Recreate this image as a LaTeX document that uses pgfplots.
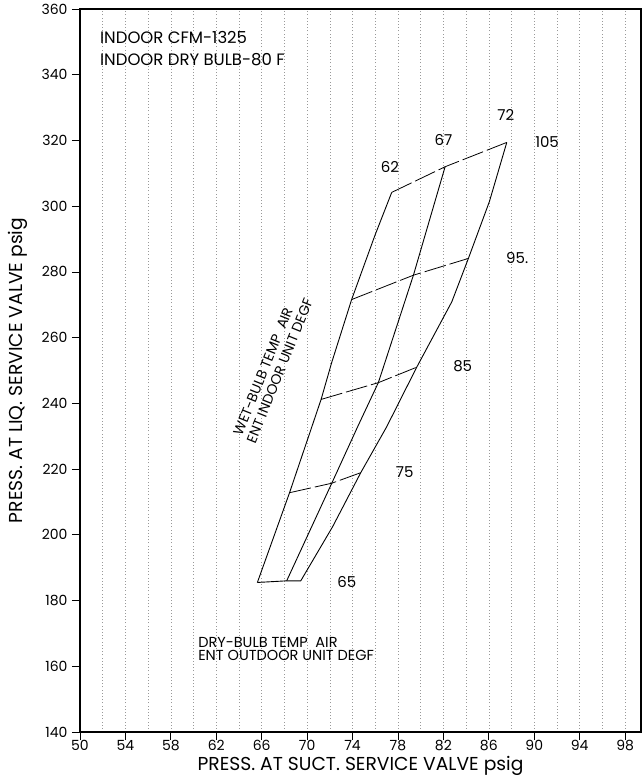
\documentclass[border=0pt]{standalone}
\usepackage{fontspec}
\setmainfont{Poppins}
\usepackage{pgfplots}
\pgfplotsset{compat=1.18}
\begin{document}
\begin{tikzpicture}
\begin{axis}[name=ax, scale only axis, width=561pt, height=723pt,
  xmin=50, xmax=99.4, ymin=140, ymax=360,
  xtick={50,54,...,98}, ytick={140,160,...,360},
  minor xtick={52,56,...,96},
  xmajorgrids, xminorgrids,
  major grid style={gray!80, line width=0.5pt, dash pattern=on 0.8pt off 2.4pt},
  minor grid style={gray!80, line width=0.5pt, dash pattern=on 0.8pt off 2.4pt},
  tick align=outside, xtick pos=bottom, ytick pos=left,
  major tick length=8pt, minor tick length=0pt,
  axis line style={line width=1.8pt},
  every tick/.style={black, line width=0.8pt},
  /pgf/number format/assume math mode=true,
  /pgf/number format/1000 sep={},
  yticklabel style={font=\fontsize{14}{16}\selectfont, xshift=-1pt},
  xticklabel style={font=\fontsize{14}{16}\selectfont, yshift=3pt},
  xlabel={PRESS. AT SUCT. SERVICE VALVE psig},
  ylabel={PRESS. AT LIQ. SERVICE VALVE psig},
  label style={font=\fontsize{18.7}{21}\selectfont},
  xlabel style={at={(axis description cs:0.5,-0.047)}, anchor=center},
  ylabel style={at={(axis description cs:-0.11,0.5)}, anchor=center},
  clip=false,
]
% wet-bulb curves
\addplot[black, line width=0.9pt] coordinates {(65.62,185.5) (68.44,212.7) (71.23,241.2) (72.17,252.5) (73.93,271.7) (75.98,291.2) (77.45,304.2)};
\addplot[black, line width=0.9pt] coordinates {(68.2,186.0) (72.17,215.7) (74.45,232.9) (76.27,246.3) (79.36,279.0) (80.39,291.2) (82.15,312.0)};
\addplot[black, line width=0.9pt] coordinates {(69.44,186.0) (72.25,202.5) (74.72,218.9) (77.01,232.9) (79.65,251.0) (82.74,270.9) (84.2,284.1) (86.05,301.4) (87.58,319.4)};
% dry-bulb lines
\addplot[black, line width=0.9pt] coordinates {(65.62,185.5) (68.2,186.0) (69.44,186.0)};
\addplot[black, line width=0.8pt, dash pattern=on 22pt off 4pt] coordinates {(68.44,212.8) (72.17,215.7) (74.72,218.9)};
\addplot[black, line width=0.8pt, dash pattern=on 22pt off 4pt] coordinates {(71.23,241.2) (76.27,246.3) (79.65,251.0)};
\addplot[black, line width=0.8pt, dash pattern=on 22pt off 4pt] coordinates {(73.93,271.6) (79.36,279.0) (84.2,284.1)};
\addplot[black, line width=0.8pt, dash pattern=on 22pt off 4pt] coordinates {(77.45,304.2) (82.15,312.0) (87.58,319.4)};
% labels
\node[font=\fontsize{15}{17}\selectfont, inner sep=0pt] at (axis cs:77.3,311.9) {62};
\node[font=\fontsize{15}{17}\selectfont, inner sep=0pt] at (axis cs:82.0,320.1) {67};
\node[font=\fontsize{15}{17}\selectfont, inner sep=0pt] at (axis cs:87.5,327.7) {72};
\node[font=\fontsize{15}{17}\selectfont, inner sep=0pt] at (axis cs:91.13,319.6) {105};
\node[font=\fontsize{15}{17}\selectfont, inner sep=0pt] at (axis cs:88.5,284.1) {95.};
\node[font=\fontsize{15}{17}\selectfont, inner sep=0pt] at (axis cs:83.7,251.2) {85};
\node[font=\fontsize{15}{17}\selectfont, inner sep=0pt] at (axis cs:78.6,219.2) {75};
\node[font=\fontsize{15}{17}\selectfont, inner sep=0pt] at (axis cs:73.5,185.5) {65};
\node[anchor=west, inner sep=0pt, font=\fontsize{16.5}{18}\selectfont] at (axis cs:51.76,351.4) {INDOOR CFM-1325};
\node[anchor=west, inner sep=0pt, font=\fontsize{16.5}{18}\selectfont] at (axis cs:51.76,344.5) {INDOOR DRY BULB-80 F};
\node[anchor=west, inner sep=0pt, font=\fontsize{14.5}{15}\selectfont] at (axis cs:60.4,167.3) {DRY-BULB TEMP\ \ AIR};
\node[anchor=west, inner sep=0pt, font=\fontsize{14.5}{15}\selectfont] at (axis cs:60.4,163.4) {ENT OUTDOOR UNIT DEGF};
\node[anchor=west, rotate=68, inner sep=0pt, font=\fontsize{14}{15}\selectfont] at (axis cs:63.86,230.4) {WET-BULB TEMP\ \ AIR};
\node[anchor=west, rotate=68, inner sep=0pt, font=\fontsize{14}{15}\selectfont] at (axis cs:65.03,228.0) {ENT INDOOR UNIT DEGF};
\end{axis}
\pgfresetboundingbox
\path ([xshift=-80pt,yshift=-50pt]ax.south west) rectangle ([yshift=9pt]ax.north east);
\end{tikzpicture}
\end{document}
